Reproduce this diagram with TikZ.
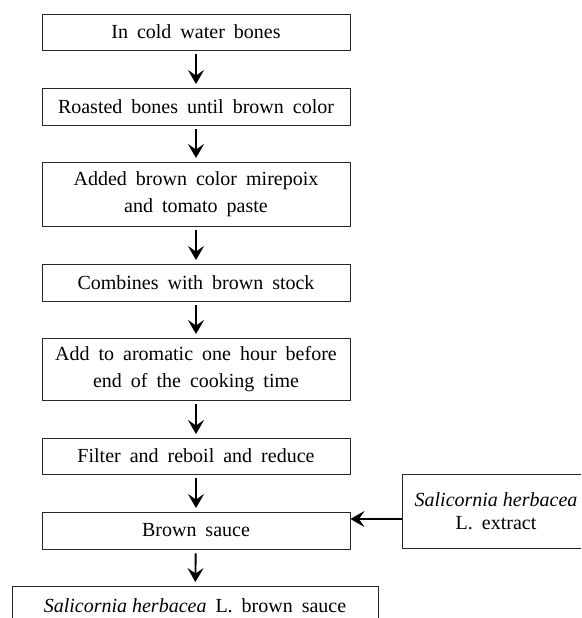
\documentclass[tikz,border=0pt]{standalone}
\usepackage{fontspec}
\setmainfont{Liberation Serif}
\usetikzlibrary{arrows.meta,calc}
\newcommand{\wsp}{\fontdimen2\font=0.45em\relax}
\tikzset{
  box/.style={draw=black!85, line width=0.9pt, rectangle, minimum width=308pt, align=center, inner sep=0pt, font=\fontsize{20}{27}\selectfont\wsp},
  arr/.style={line width=1.9pt, -{Stealth[length=14pt,width=16pt,inset=5.5pt]}, shorten >=3.5pt, shorten <=4pt}
}
\begin{document}
\begin{tikzpicture}[x=1pt,y=1pt]
\useasboundingbox (0,0) rectangle (581,-618);
\fill[white] (0,0) rectangle (581,-618);
\clip (0,0) rectangle (581,-618);
\node[box, minimum height=36pt] (b1) at (196,-32) {In cold water bones};
\node[box, minimum height=37pt] (b2) at (196,-106.5) {Roasted bones until brown color};
\node[box, minimum height=64pt] (b3) at (196,-194) {Added brown color mirepoix\\and tomato paste};
\node[box, minimum height=37pt] (b4) at (196,-282.5) {Combines with brown stock};
\node[box, minimum height=62pt] (b5) at (196,-369) {Add to aromatic one hour before\\end of the cooking time};
\node[box, minimum height=36pt] (b6) at (196,-456) {Filter and reboil and reduce};
\node[box, minimum height=37pt] (b7) at (196,-530.5) {Brown sauce};
\node[box, minimum width=366pt, minimum height=40pt, text depth=0pt] (b8) at (195,-606) {{\itshape Salicornia herbacea} L. brown sauce};
\node[box, minimum width=188pt, minimum height=74pt, font=\fontsize{20}{23}\selectfont\wsp] (ext) at (496,-511) {{\itshape Salicornia herbacea}\\L. extract};
\draw[arr] (b1) -- (b2);
\draw[arr] (b2) -- (b3);
\draw[arr] (b3) -- (b4);
\draw[arr] (b4) -- (b5);
\draw[arr] (b5) -- (b6);
\draw[arr] (b6) -- (b7);
\draw[arr] (b7) -- (b8);
\coordinate (e) at ([yshift=-8pt]ext.west);
\draw[arr, shorten <=0pt, shorten >=0pt] (e) -- (e -| b7.east);
\end{tikzpicture}
\end{document}
